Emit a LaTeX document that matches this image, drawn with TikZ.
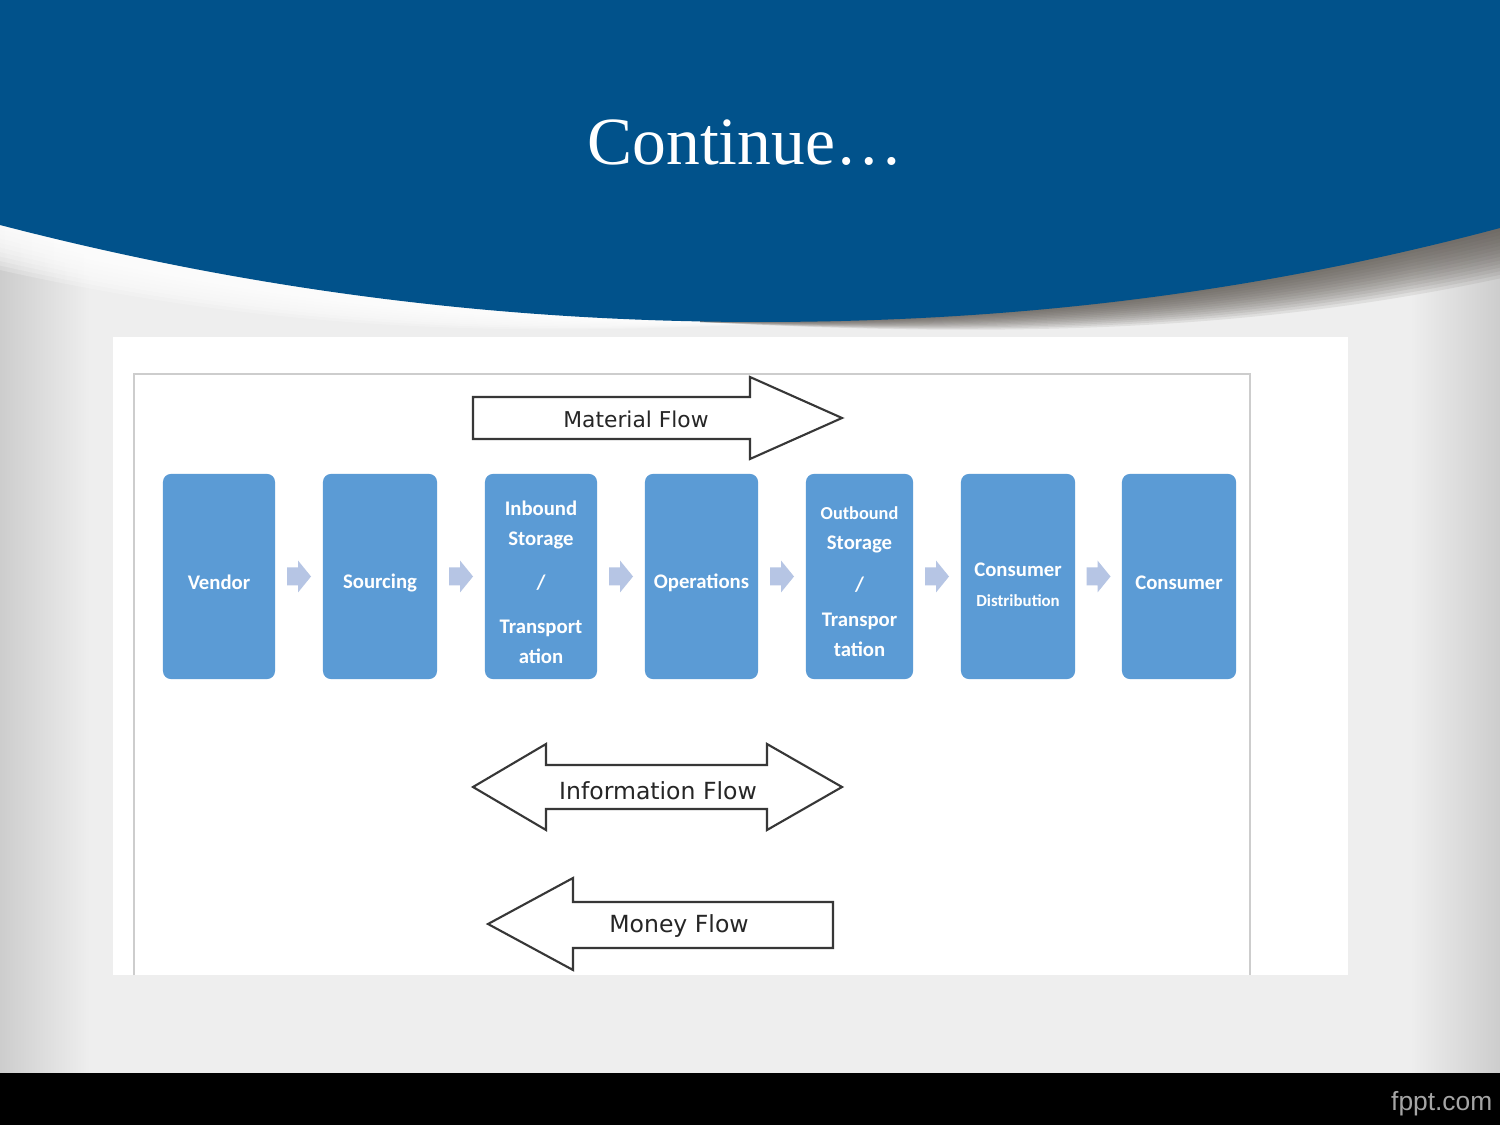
\documentclass[tikz,border=0pt]{standalone}
\usepackage{fontspec}
\setmainfont{Liberation Serif}
\newfontfamily\boxfont{Carlito}
\newfontfamily\flowfont{DejaVu Sans}
\newfontfamily\footfont{Liberation Sans}
\usetikzlibrary{calc}
\definecolor{hdrblue}{RGB}{1,82,139}
\definecolor{boxblue}{RGB}{91,155,213}
\definecolor{arrblue}{RGB}{182,197,228}
\definecolor{outl}{RGB}{55,55,55}
\definecolor{pagegray}{RGB}{238,238,238}
\definecolor{edgegray}{RGB}{205,205,205}
\definecolor{framegray}{RGB}{205,205,205}
\definecolor{foottext}{RGB}{165,165,165}
\definecolor{shadowcol}{RGB}{90,84,78}
\newcommand{\gaparrow}[2]{\fill[arrblue, shift={($(#1.east)!0.5!(#2.west)$)}] (-12,-9) -- (-1,-9) -- (-1,-16) -- (12,0) -- (-1,16) -- (-1,9) -- (-12,9) -- cycle;}
\begin{document}
\begin{tikzpicture}[x=0.01cm,y=-0.01cm,
  stepbox/.style={fill=boxblue, rounded corners=0.08cm, inner sep=0pt,
    minimum height=2.05cm},
  boxtext/.style={text=white, align=center, inner sep=0pt,
    font=\boxfont\bfseries\fontsize{5.9}{8.5}\selectfont},
  flowarrow/.style={draw=outl, line width=0.6pt, fill=white, line join=miter},
  flowtext/.style={text=black!85, inner sep=0pt, font=\flowfont\fontsize{6.7}{8}\selectfont}
]
\useasboundingbox (0,0) rectangle (1500,1125);
% page background
\fill[pagegray] (0,0) rectangle (1500,1125);
\shade[left color=edgegray, right color=pagegray] (0,0) rectangle (90,1073);
\shade[left color=pagegray, right color=edgegray] (1410,0) rectangle (1500,1073);
% highlight under the left part of the header
\foreach \k in {1,...,10}{
  \fill[white, opacity=0.22] (0,{225+4.5*\k}) .. controls (250,{290+3.6*\k}) and (480,{322+1.8*\k}) .. (800,322) -- (800,200) -- (0,200) -- cycle;
}
% shadow under the right part of the header
\foreach \k in {1,...,14}{
  \fill[shadowcol, opacity=0.1] (700,322) .. controls (1020,{322+1.2*\k}) and (1260,{292+2.7*\k}) .. (1500,{228+3.6*\k}) -- (1500,200) -- (700,200) -- cycle;
}
% header
\fill[hdrblue] (0,0) -- (0,225) .. controls (250,290) and (500,322) .. (760,322) .. controls (1020,322) and (1260,292) .. (1500,228) -- (1500,0) -- cycle;
\node[text=white, anchor=base, inner sep=0pt, font=\fontsize{19.2}{23}\selectfont] (title) at (745,165) {Continue…};
% footer
\fill[black] (0,1073) rectangle (1500,1125);
\node[text=foottext, anchor=base east, inner sep=0pt, font=\footfont\fontsize{7.5}{9}\selectfont] (foot) at (1493,1110) {fppt.com};
% white panel and frame
\fill[white] (113,337) rectangle (1348,975);
\draw[framegray, line width=0.4pt] (134,975) -- (134,374) -- (1250,374) -- (1250,975);
% process boxes
\node[stepbox, minimum width=1.12cm] (vendor) at (219,576.5) {};
\node[stepbox, minimum width=1.14cm] (sourcing) at (380,576.5) {};
\node[stepbox, minimum width=1.12cm] (inbound) at (541,576.5) {};
\node[stepbox, minimum width=1.13cm] (operations) at (701.5,576.5) {};
\node[stepbox, minimum width=1.07cm] (outbound) at (859.5,576.5) {};
\node[stepbox, minimum width=1.14cm] (consdist) at (1018,576.5) {};
\node[stepbox, minimum width=1.14cm] (consumer) at (1179,576.5) {};
% box texts
\node[boxtext] (vendor-t) at ($(vendor)+(0,6)$) {Vendor};
\node[boxtext] (sourcing-t) at ($(sourcing)+(0,6)$) {Sourcing};
\node[boxtext] (inbound-t) at ($(inbound)+(0,6)$) {Inbound\\Storage\\[0.14cm]/\\[0.14cm]Transport\\ation};
\node[boxtext] (operations-t) at ($(operations)+(0,6)$) {Operations};
\node[boxtext] (outbound-t) at ($(outbound)+(0,5)$) {{\fontsize{5.2}{8.5}\selectfont Outbound}\\Storage\\[0.12cm]/\\[0.05cm]Transpor\\tation};
\node[boxtext] (consdist-t) at ($(consdist)+(0,8)$) {Consumer\\{\fontsize{4.8}{8.5}\selectfont Distribution}};
\node[boxtext] (consumer-t) at ($(consumer)+(0,6)$) {Consumer};
% small arrows between boxes
\gaparrow{vendor}{sourcing}
\gaparrow{sourcing}{inbound}
\gaparrow{inbound}{operations}
\gaparrow{operations}{outbound}
\gaparrow{outbound}{consdist}
\gaparrow{consdist}{consumer}
% material flow
\draw[flowarrow] (473,397) -- (750,397) -- (750,377) -- (842,418) -- (750,459) -- (750,439) -- (473,439) -- cycle;
\node[flowtext, font=\flowfont\fontsize{6.2}{8}\selectfont] (matflow) at (636,419) {Material Flow};
% information flow
\draw[flowarrow] (473,787) -- (546,744) -- (546,765) -- (767,765) -- (767,744) -- (842,787) -- (767,830) -- (767,809) -- (546,809) -- (546,830) -- cycle;
\node[flowtext] (infoflow) at (658,791) {Information Flow};
% money flow
\draw[flowarrow] (488,924) -- (573,878) -- (573,902) -- (833,902) -- (833,948) -- (573,948) -- (573,970) -- cycle;
\node[flowtext] (moneyflow) at (679,926) {Money Flow};
\end{tikzpicture}
\end{document}
